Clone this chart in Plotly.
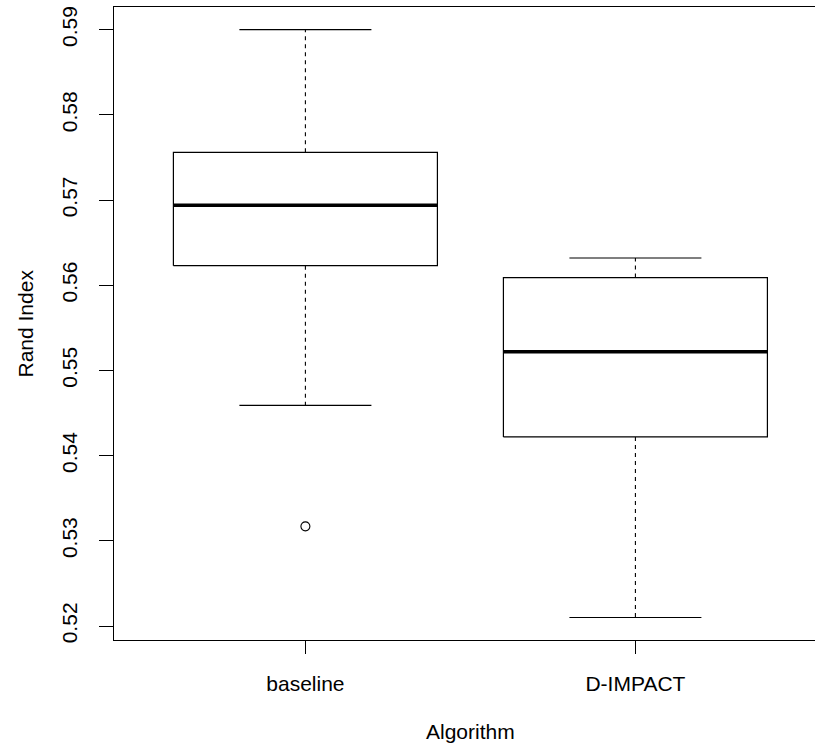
import plotly.graph_objects as go

# ---- data ----
categories = ["baseline", "D-IMPACT"]
lower_whisker = [0.5459, 0.5210]
q1 = [0.5623, 0.5422]
median = [0.5694, 0.5522]
q3 = [0.5756, 0.5609]
upper_whisker = [0.5900, 0.5632]
outlier_cat = ["baseline"]
outlier_val = [0.5317]

y_ticks = [0.52, 0.53, 0.54, 0.55, 0.56, 0.57, 0.58, 0.59]
y_ticktext = ["0.52", "0.53", "0.54", "0.55", "0.56", "0.57", "0.58", "0.59"]

# ---- style ----
FONT = "Liberation Sans, Arial, sans-serif"
BOXW = 0.4   # half box width (axis units)
CAPW = 0.2   # half staple width
pos = {c: i + 1 for i, c in enumerate(categories)}

fig = go.Figure()
for i, c in enumerate(categories):
    x = pos[c]
    # box
    fig.add_trace(go.Scatter(
        x=[x - BOXW, x + BOXW, x + BOXW, x - BOXW, x - BOXW],
        y=[q1[i], q1[i], q3[i], q3[i], q1[i]],
        mode="lines", line=dict(color="black", width=1.2),
        fill="toself", fillcolor="white", hoverinfo="skip", showlegend=False))
    # median
    fig.add_trace(go.Scatter(
        x=[x - BOXW, x + BOXW], y=[median[i], median[i]],
        mode="lines", line=dict(color="black", width=3.5),
        hoverinfo="skip", showlegend=False))
    # whiskers (dashed)
    fig.add_trace(go.Scatter(
        x=[x, x, None, x, x],
        y=[q3[i], upper_whisker[i], None, q1[i], lower_whisker[i]],
        mode="lines", line=dict(color="black", width=1.1, dash="4px,4px"),
        hoverinfo="skip", showlegend=False))
    # staples
    fig.add_trace(go.Scatter(
        x=[x - CAPW, x + CAPW, None, x - CAPW, x + CAPW],
        y=[upper_whisker[i], upper_whisker[i], None, lower_whisker[i], lower_whisker[i]],
        mode="lines", line=dict(color="black", width=1.2),
        hoverinfo="skip", showlegend=False))

# outliers
fig.add_trace(go.Scatter(
    x=[pos[c] for c in outlier_cat], y=outlier_val, mode="markers",
    marker=dict(symbol="circle-open", size=9, color="black", line=dict(width=1.1)),
    showlegend=False))

fig.update_layout(
    width=815, height=747,
    margin=dict(l=114, r=0, t=7, b=107),
    paper_bgcolor="white", plot_bgcolor="white",
    font=dict(family=FONT, size=21, color="black"),
    xaxis=dict(
        range=[0.42, 2.5442], tickvals=[pos[c] for c in categories], ticktext=categories,
        showgrid=False, zeroline=False, showline=True, linecolor="black", linewidth=1.2,
        mirror=True, ticks="outside", ticklen=13, tickwidth=1.2, tickcolor="black",
        ticklabelstandoff=12, tickfont=dict(size=21)),
    yaxis=dict(
        range=[0.51836, 0.59266], tickvals=y_ticks, ticktext=y_ticktext,
        showgrid=False, zeroline=False, showline=True, linecolor="black", linewidth=1.2,
        ticks="outside", ticklen=14, tickwidth=1.2, tickcolor="black",
        tickangle=-90, ticklabelstandoff=14, tickfont=dict(size=21)),
    annotations=[
        dict(text="Algorithm", xref="x", yref="paper", x=1.5, y=-0.1438,
             xanchor="center", yanchor="middle", showarrow=False, font=dict(size=21)),
        dict(text="Rand Index", xref="paper", yref="paper", x=(25 - 114) / 701, y=0.5,
             xanchor="center", yanchor="middle", textangle=-90, showarrow=False,
             font=dict(size=21)),
    ],
)

fig.write_html(
    "out.html",
    config={"displayModeBar": False},
    post_script="document.body.style.margin='0';document.body.style.overflow='hidden';",
)
